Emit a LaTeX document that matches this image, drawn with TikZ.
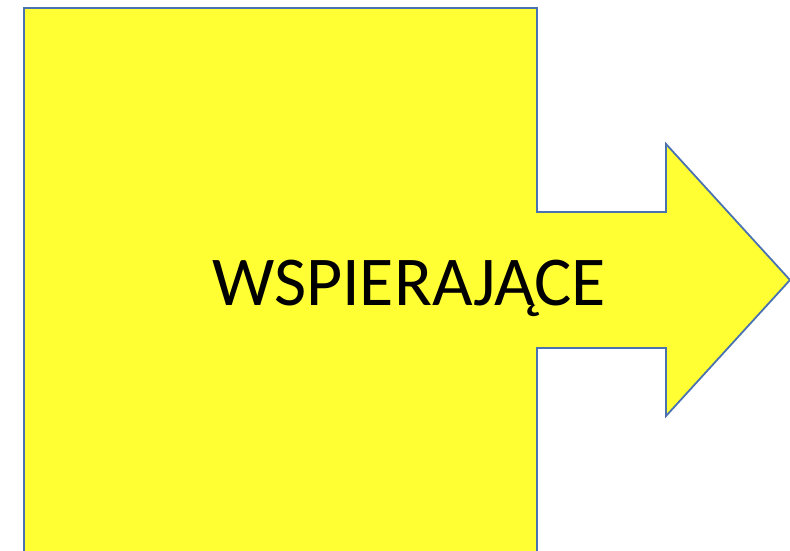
\documentclass[tikz,border=0pt]{standalone}
\usepackage{fontspec}
\setmainfont{Carlito}
\definecolor{fillyellow}{HTML}{FFFF33}
\definecolor{edgeblue}{HTML}{4A72B0}
\begin{document}
\begin{tikzpicture}[x=1pt,y=-1pt,
  shapestyle/.style={fill=fillyellow,draw=edgeblue,line width=1.8pt,line join=miter},
  labelstyle/.style={font=\fontsize{70}{70}\selectfont,text=black,inner sep=0pt}]
\useasboundingbox (0,0) rectangle (790,550);
\begin{scope}
\clip (0,0) rectangle (790,550);
\draw[shapestyle] (24,8) -- (537,8) -- (537,212) -- (666,212) -- (666,144) -- (790,280) -- (666,416) -- (666,348) -- (537,348) -- (537,560) -- (24,560) -- cycle;
\end{scope}
\node[labelstyle,anchor=base] (lbl) at (409,305) {WSPIERAJĄCE};
\end{tikzpicture}
\end{document}
